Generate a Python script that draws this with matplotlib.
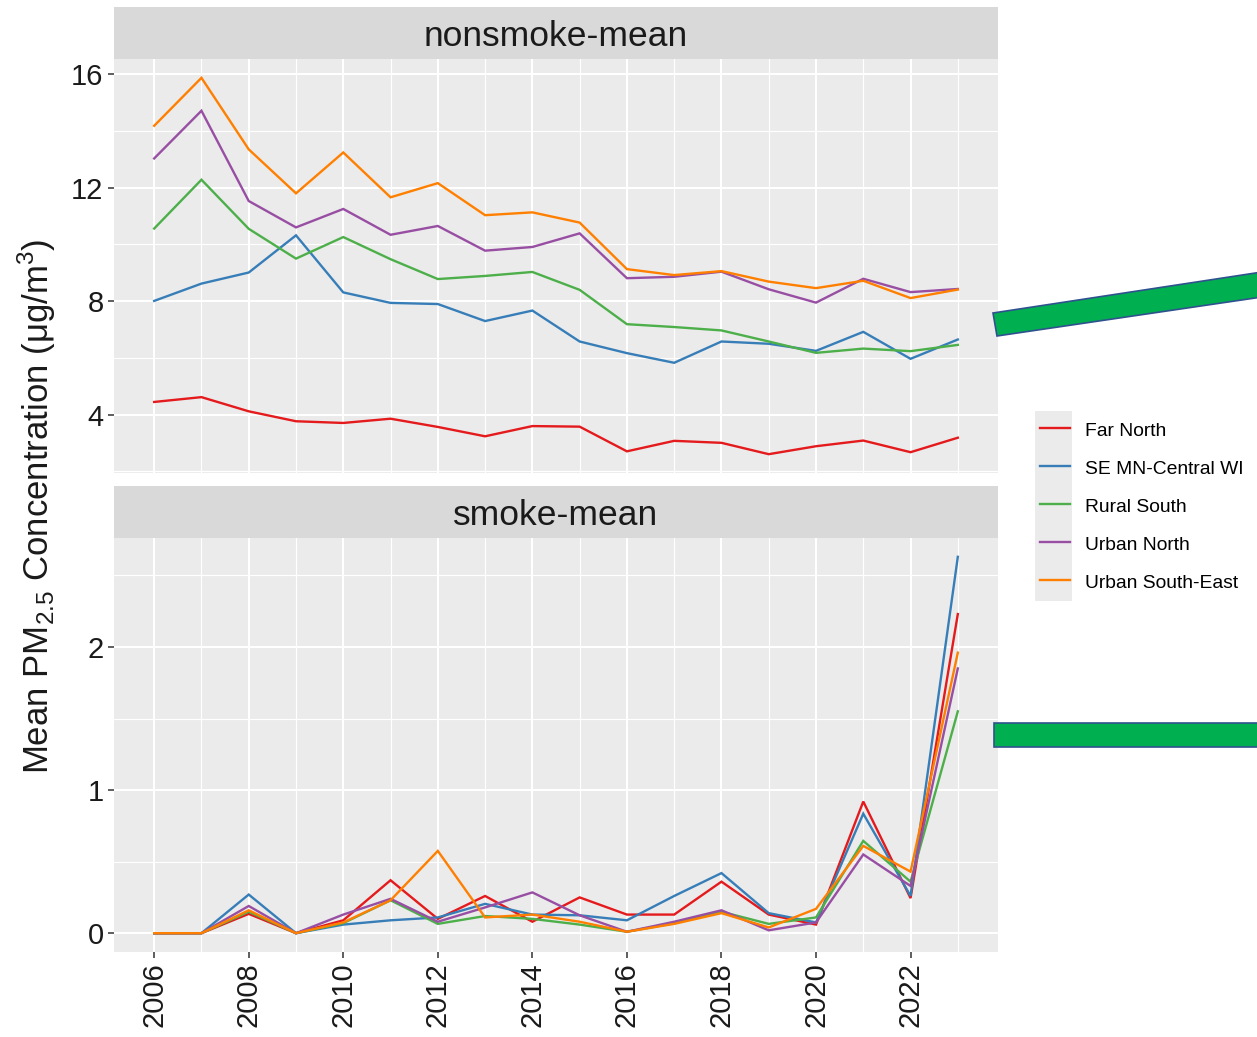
import matplotlib
matplotlib.use("Agg")
import matplotlib.pyplot as plt
from matplotlib.patches import Polygon
import numpy as np

plt.rcParams['font.family'] = ['Liberation Sans', 'DejaVu Sans']

W, H = 1257, 1037

years = list(range(2006, 2024))
regions = ["Far North", "SE MN-Central WI", "Rural South", "Urban North", "Urban South-East"]
colors = ["#E41A1C", "#377EB8", "#4DAF4A", "#984EA3", "#FF7F00"]

# non-smoke days, mean PM2.5
nonsmoke_far_north = [4.45, 4.62, 4.12, 3.77, 3.71, 3.86, 3.57, 3.24, 3.60, 3.58,
                      2.71, 3.08, 3.01, 2.61, 2.89, 3.09, 2.68, 3.19]
nonsmoke_se_mn = [8.01, 8.62, 9.01, 10.32, 8.31, 7.94, 7.90, 7.30, 7.67, 6.58,
                  6.17, 5.83, 6.58, 6.50, 6.25, 6.92, 5.97, 6.65]
nonsmoke_rural_south = [10.56, 12.28, 10.55, 9.50, 10.26, 9.48, 8.78, 8.89, 9.03, 8.40,
                        7.19, 7.09, 6.97, 6.58, 6.18, 6.33, 6.24, 6.46]
nonsmoke_urban_north = [13.03, 14.71, 11.53, 10.60, 11.25, 10.34, 10.65, 9.78, 9.91, 10.39,
                        8.81, 8.86, 9.04, 8.42, 7.95, 8.79, 8.32, 8.43]
nonsmoke_urban_se = [14.18, 15.87, 13.35, 11.80, 13.24, 11.66, 12.16, 11.03, 11.13, 10.77,
                     9.13, 8.92, 9.06, 8.69, 8.46, 8.72, 8.11, 8.41]

# smoke days, mean PM2.5
smoke_far_north = [0, 0, 0.135, 0, 0.09, 0.37, 0.10, 0.26, 0.08, 0.25,
                   0.13, 0.13, 0.36, 0.13, 0.06, 0.92, 0.245, 2.23]
smoke_se_mn = [0, 0, 0.27, 0, 0.06, 0.09, 0.11, 0.205, 0.13, 0.125,
               0.09, 0.26, 0.42, 0.14, 0.075, 0.835, 0.26, 2.63]
smoke_rural_south = [0, 0, 0.15, 0, 0.07, 0.23, 0.065, 0.12, 0.10, 0.06,
                     0.01, 0.07, 0.15, 0.065, 0.11, 0.645, 0.36, 1.55]
smoke_urban_north = [0, 0, 0.19, 0, 0.13, 0.24, 0.08, 0.18, 0.285, 0.125,
                     0.01, 0.08, 0.16, 0.02, 0.075, 0.55, 0.33, 1.85]
smoke_urban_se = [0, 0, 0.16, 0, 0.075, 0.23, 0.575, 0.11, 0.13, 0.08,
                  0.01, 0.065, 0.14, 0.04, 0.17, 0.61, 0.43, 1.96]

nonsmoke = [nonsmoke_far_north, nonsmoke_se_mn, nonsmoke_rural_south,
            nonsmoke_urban_north, nonsmoke_urban_se]
smoke = [smoke_far_north, smoke_se_mn, smoke_rural_south,
         smoke_urban_north, smoke_urban_se]


def px_rect(x0, y0, x1, y1):
    return [x0 / W, 1 - y1 / H, (x1 - x0) / W, (y1 - y0) / H]


fig = plt.figure(figsize=(W / 100, H / 100), dpi=100)
fig.patch.set_facecolor("white")


def panel(rect, strip_rect, title, series, major, minor, show_x):
    ax = fig.add_axes(px_rect(*rect))
    ax.set_facecolor("#EBEBEB")
    for s in ax.spines.values():
        s.set_visible(False)
    for vals, c in zip(series, colors):
        ax.plot(years, vals, color=c, lw=1.7, solid_joinstyle="miter", zorder=3)
    lo = min(min(v) for v in series)
    hi = max(max(v) for v in series)
    pad = (hi - lo) * 0.05
    ax.set_ylim(lo - pad, hi + pad)
    ax.set_xlim(2006 - 0.85, 2023 + 0.85)
    ax.set_yticks(major)
    ax.set_yticks(minor, minor=True)
    ax.set_xticks(range(2006, 2023, 2))
    ax.set_xticks(range(2007, 2024, 2), minor=True)
    ax.grid(True, which="major", color="white", lw=1.5, zorder=1)
    ax.grid(True, which="minor", color="white", lw=0.8, zorder=1)
    ax.set_axisbelow(True)
    ax.tick_params(which="minor", length=0)
    ax.tick_params(which="major", length=4.5, width=1.1, color="#333333",
                   labelsize=21, labelcolor="#1a1a1a", pad=3)
    if show_x:
        ax.tick_params(axis="x", labelrotation=90)
    else:
        ax.tick_params(axis="x", labelbottom=False, length=0)
    # facet strip
    sax = fig.add_axes(px_rect(*strip_rect))
    sax.set_facecolor("#D9D9D9")
    sax.set_xticks([])
    sax.set_yticks([])
    for s in sax.spines.values():
        s.set_visible(False)
    sax.text(0.5, 0.44, title, ha="center", va="center", fontsize=25.5,
             color="#1a1a1a", transform=sax.transAxes)
    return ax


ax_top = panel((114, 59, 998, 473), (114, 7, 998, 59), "nonsmoke-mean",
               nonsmoke, [4, 8, 12, 16], [2, 6, 10, 14], False)
ax_bot = panel((114, 538, 998, 952), (114, 486, 998, 538), "smoke-mean",
               smoke, [0, 1, 2], [0.5, 1.5, 2.5], True)

fig.text(37 / W, 1 - 506 / H,
         r"Mean PM$_{\mathregular{2.5}}$ Concentration (μg/m$^{\mathregular{3}}$)",
         rotation=90, ha="center", va="center", fontsize=25, color="#1a1a1a")

# legend on the right
handles = [plt.Line2D([], [], color=c, lw=1.7) for c in colors]
leg = fig.legend(handles, regions, loc="upper left",
                 bbox_to_anchor=(1036 / W, 1 - 417 / H), frameon=False,
                 fontsize=13.9, handlelength=1.55, handleheight=1.0,
                 labelspacing=0.97, handletextpad=0.77, borderpad=0.2,
                 borderaxespad=0)
fig.patches.append(plt.Rectangle((1035 / W, 1 - 601 / H), 37 / W, 190 / H,
                                 transform=fig.transFigure, facecolor="#EBEBEB",
                                 edgecolor="none", zorder=0))

# green callout arrows, cut at the right edge
shaft_top = [(993, 313), (1262, 272), (1262, 297), (997, 336)]
shaft_bot = [(994, 723), (1262, 723), (1262, 747), (994, 747)]
for pts in (shaft_top, shaft_bot):
    xy = [(x / W, 1 - y / H) for x, y in pts]
    fig.patches.append(Polygon(xy, closed=True, transform=fig.transFigure,
                               facecolor="#00B050", edgecolor="#2F528F",
                               lw=1.2, zorder=5))

fig.savefig("out.png", dpi=100)
